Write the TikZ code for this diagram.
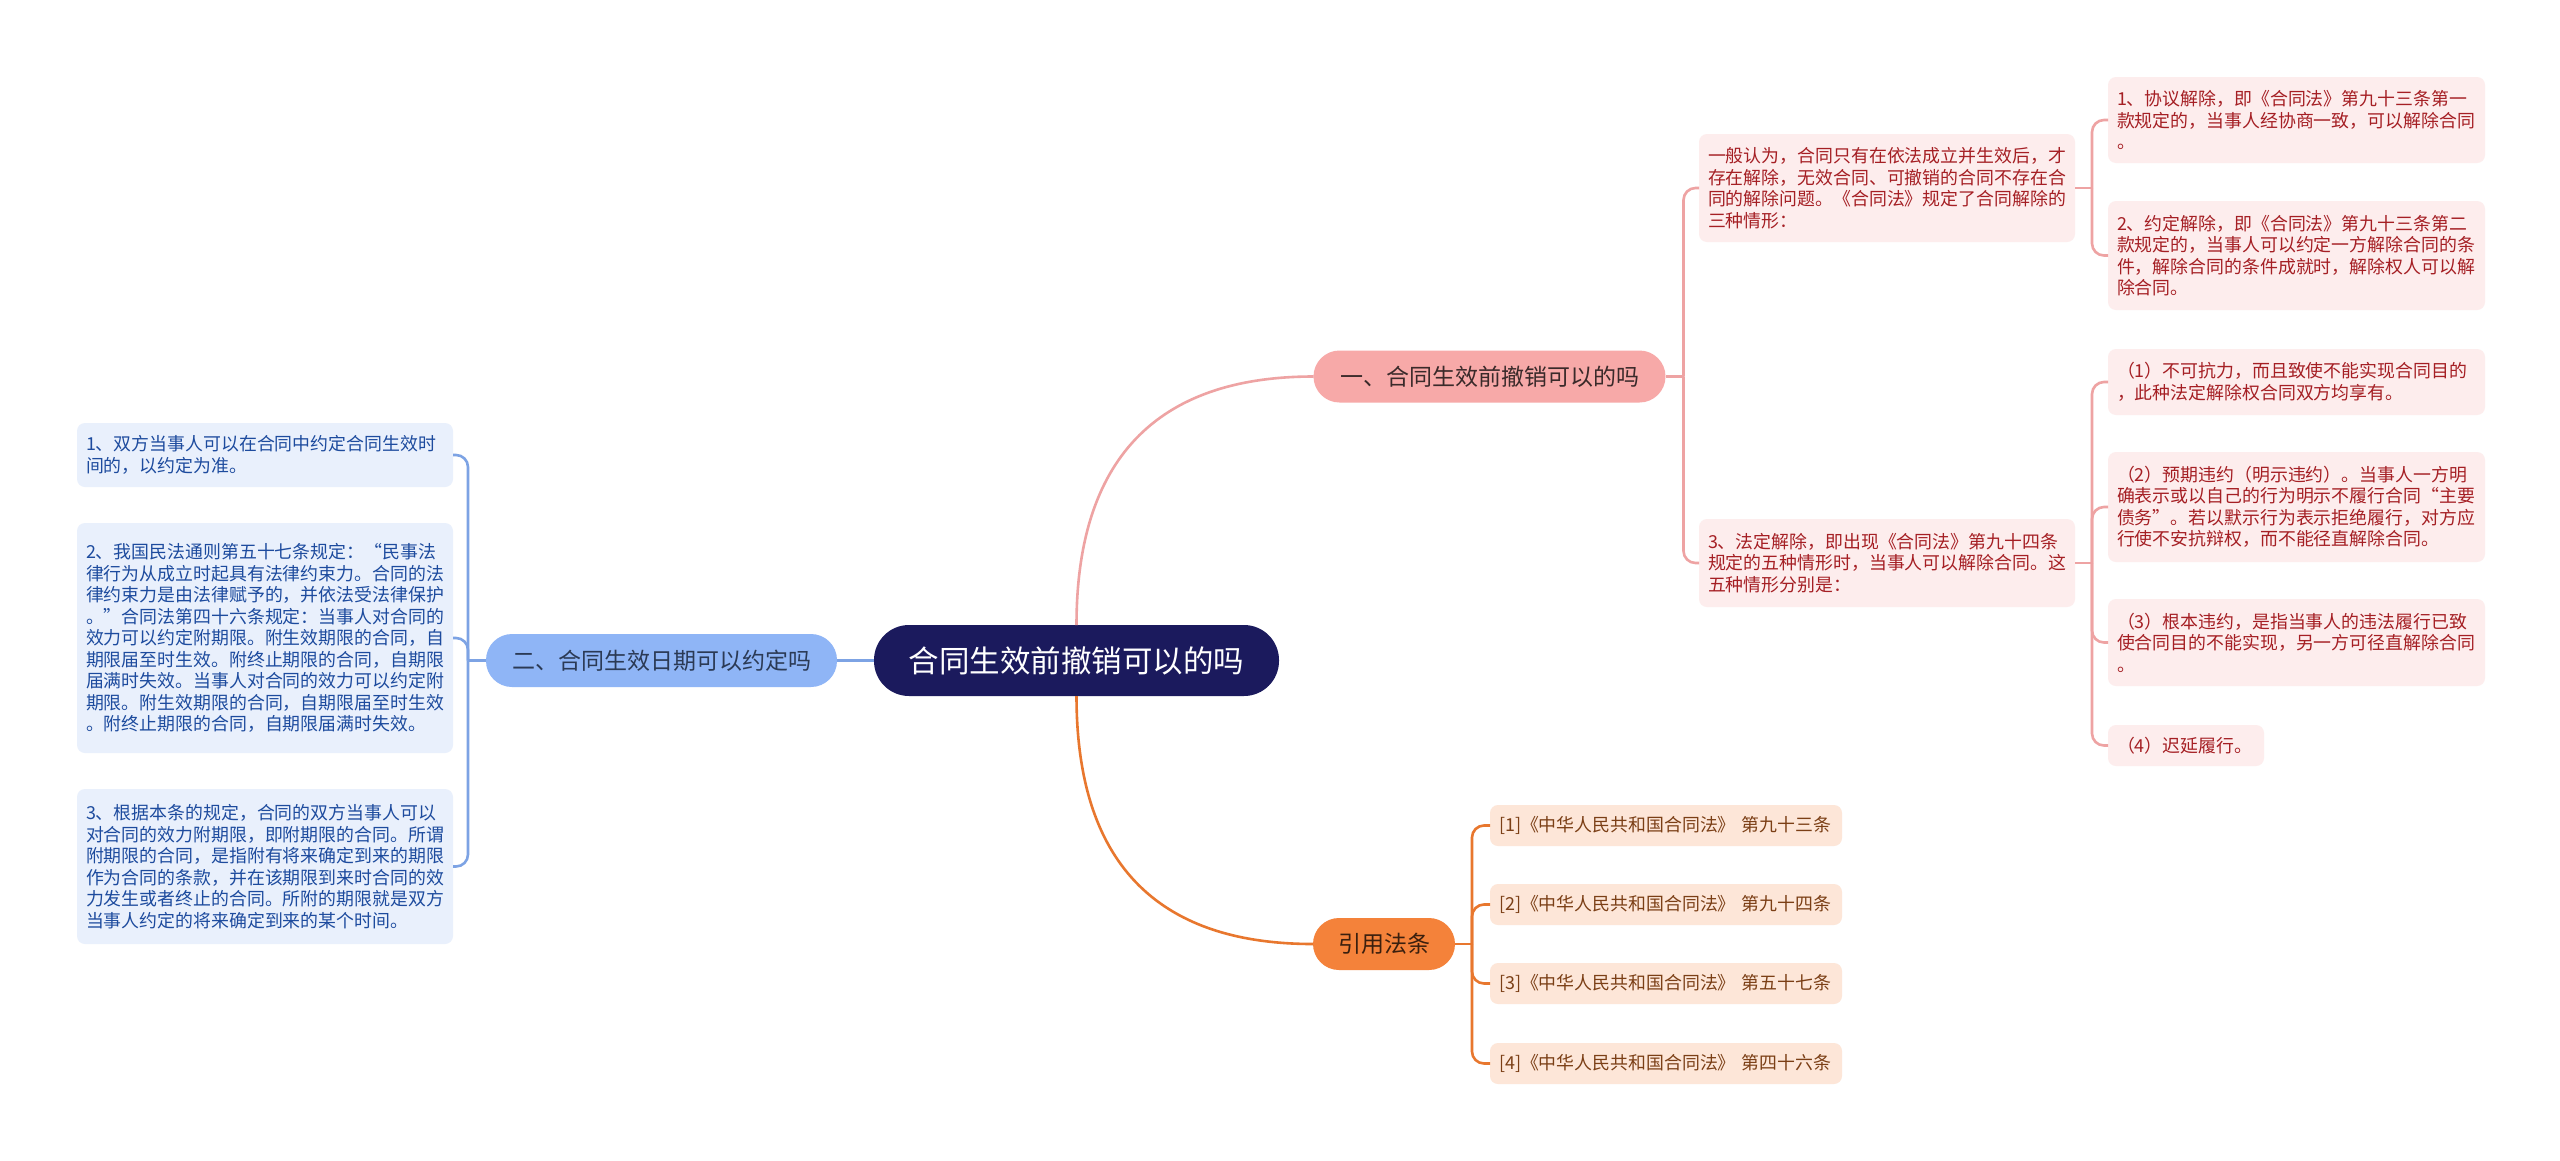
\documentclass[tikz,border=0pt]{standalone}
\usepackage{fontspec}
\setmainfont{Noto Sans CJK SC}
\usetikzlibrary{calc}
\definecolor{rootc}{HTML}{1B1A5D}
\definecolor{bonefill}{HTML}{F7A9A8}
\definecolor{bonetx}{HTML}{3A2A2A}
\definecolor{pinkbg}{HTML}{FDEDED}
\definecolor{pinktx}{HTML}{A51F24}
\definecolor{pinkln}{HTML}{EEA3A3}
\definecolor{btwofill}{HTML}{8FB5F6}
\definecolor{btwotx}{HTML}{2B3A55}
\definecolor{bluebg}{HTML}{E9F0FC}
\definecolor{bluetx}{HTML}{1D4B9E}
\definecolor{blueln}{HTML}{7DA3E4}
\definecolor{bthrfill}{HTML}{F4823A}
\definecolor{bthrtx}{HTML}{3A1F0E}
\definecolor{orangebg}{HTML}{FDE6D8}
\definecolor{orangetx}{HTML}{7B3F16}
\definecolor{orangeln}{HTML}{E8772E}
\begin{document}
\begin{tikzpicture}[x=1pt,y=-1pt,
  every node/.style={inner sep=0pt, outer sep=0pt},
  detail/.style={rounded corners=8pt, anchor=north west, align=left, inner xsep=9pt, inner ysep=0pt,
    font=\fontsize{17.9}{21.5}\selectfont},
  pinkbox/.style={detail, fill=pinkbg, text=pinktx},
  bluebox/.style={detail, fill=bluebg, text=bluetx},
  refbox/.style={detail, fill=orangebg, text=orangetx},
  pill/.style={rounded corners=26pt, align=center, font=\fontsize{23}{27}\selectfont},
  pinkline/.style={draw=pinkln, line width=2.6pt},
  blueline/.style={draw=blueln, line width=2.6pt},
  orangeline/.style={draw=orangeln, line width=2.6pt},
  elbow/.style={rounded corners=12pt}
]
\fill[white] (0,0) rectangle (2560,1160);
\useasboundingbox (0,0) rectangle (2560,1160);

% root and main branches
\node[rounded corners=35pt, fill=rootc, text=white, minimum width=405pt, minimum height=71pt,
  font=\fontsize{30.5}{34}\selectfont] (root) at (1076.5,660.5) {合同生效前撤销可以的吗};
\node[pill, fill=bonefill, text=bonetx, minimum width=352pt, minimum height=52pt] (b1) at (1489.5,376.5) {一、合同生效前撤销可以的吗};
\node[pill, fill=btwofill, text=btwotx, minimum width=351pt, minimum height=53pt] (b2) at (661.5,660.5) {二、合同生效日期可以约定吗};
\node[pill, fill=bthrfill, text=bthrtx, minimum width=142pt, minimum height=52pt] (b3) at (1384,944) {引用法条};

% branch 1 details
\node[pinkbox, text width=358pt, minimum height=108pt] (A) at (1699,134) {一般认为，合同只有在依法成立并生效后，才\\存在解除，无效合同、可撤销的合同不存在合\\同的解除问题。《合同法》规定了合同解除的\\三种情形：};
\node[pinkbox, text width=358pt, minimum height=88pt] (B) at (1699,519) {3、法定解除，即出现《合同法》第九十四条\\规定的五种情形时，当事人可以解除合同。这\\五种情形分别是：};
\node[pinkbox, text width=359pt, minimum height=86pt] (A1) at (2108,77) {1、协议解除，即《合同法》第九十三条第一\\款规定的，当事人经协商一致，可以解除合同\\。};
\node[pinkbox, text width=359pt, minimum height=109pt] (A2) at (2108,201) {2、约定解除，即《合同法》第九十三条第二\\款规定的，当事人可以约定一方解除合同的条\\件，解除合同的条件成就时，解除权人可以解\\除合同。};
\node[pinkbox, text width=359pt, minimum height=66pt] (B1) at (2108,349) {（1）不可抗力，而且致使不能实现合同目的\\，此种法定解除权合同双方均享有。};
\node[pinkbox, text width=359pt, minimum height=110pt] (B2) at (2108,452) {（2）预期违约（明示违约）。当事人一方明\\确表示或以自己的行为明示不履行合同“主要\\债务”。若以默示行为表示拒绝履行，对方应\\行使不安抗辩权，而不能径直解除合同。};
\node[pinkbox, text width=359pt, minimum height=87pt] (B3) at (2108,599) {（3）根本违约，是指当事人的违法履行已致\\使合同目的不能实现，另一方可径直解除合同\\。};
\node[pinkbox, text width=138pt, minimum height=41pt] (B4) at (2108,725) {（4）迟延履行。};

% branch 2 details
\node[bluebox, text width=358pt, minimum height=64pt] (L1) at (77,423) {1、双方当事人可以在合同中约定合同生效时\\间的，以约定为准。};
\node[bluebox, text width=358pt, minimum height=230pt] (L2) at (77,523) {2、我国民法通则第五十七条规定：“民事法\\律行为从成立时起具有法律约束力。合同的法\\律约束力是由法律赋予的，并依法受法律保护\\。”合同法第四十六条规定：当事人对合同的\\效力可以约定附期限。附生效期限的合同，自\\期限届至时生效。附终止期限的合同，自期限\\届满时失效。当事人对合同的效力可以约定附\\期限。附生效期限的合同，自期限届至时生效\\。附终止期限的合同，自期限届满时失效。};
\node[bluebox, text width=358pt, minimum height=155pt] (L3) at (77,789) {3、根据本条的规定，合同的双方当事人可以\\对合同的效力附期限，即附期限的合同。所谓\\附期限的合同，是指附有将来确定到来的期限\\作为合同的条款，并在该期限到来时合同的效\\力发生或者终止的合同。所附的期限就是双方\\当事人约定的将来确定到来的某个时间。};

% branch 3 details
\node[refbox, text width=334pt, minimum height=41pt] (R1) at (1490,805) {[1]《中华人民共和国合同法》~第九十三条};
\node[refbox, text width=334pt, minimum height=41pt] (R2) at (1490,884) {[2]《中华人民共和国合同法》~第九十四条};
\node[refbox, text width=334pt, minimum height=41pt] (R3) at (1490,963) {[3]《中华人民共和国合同法》~第五十七条};
\node[refbox, text width=334pt, minimum height=41pt] (R4) at (1490,1043) {[4]《中华人民共和国合同法》~第四十六条};

% main connectors
\draw[pinkline] (root.north) .. controls +(0,-165) and +(-158,0) .. (b1.west);
\draw[orangeline] (root.south) .. controls +(0,165) and +(-158,0) .. (b3.west);
\draw[blueline] (root.west) -- (b2.east);

% brackets
\coordinate (j1) at ($(b1.east)+(18,0)$);
\draw[pinkline] (b1.east) -- (j1);
\draw[pinkline, elbow] (j1) |- (A.west);
\draw[pinkline, elbow] (j1) |- (B.west);

\coordinate (jA) at ($(A.east)+(17,0)$);
\draw[pinkline] (A.east) -- (jA);
\draw[pinkline, elbow] (jA) |- (A1.west);
\draw[pinkline, elbow] (jA) |- (A2.west);

\coordinate (jB) at ($(B.east)+(17,0)$);
\draw[pinkline] (B.east) -- (jB);
\draw[pinkline, elbow] (jB) |- (B1.west);
\draw[pinkline, elbow] (jB) |- (B2.west);
\draw[pinkline, elbow] (jB) |- (B3.west);
\draw[pinkline, elbow] (jB) |- (B4.west);

\coordinate (j2) at ($(b2.west)+(-18,0)$);
\draw[blueline] (b2.west) -- (j2);
\draw[blueline, elbow] (j2) |- (L1.east);
\draw[blueline, elbow] (j2) |- (L2.east);
\draw[blueline, elbow] (j2) |- (L3.east);

\coordinate (j3) at ($(b3.east)+(17,0)$);
\draw[orangeline] (b3.east) -- (j3);
\draw[orangeline, elbow] (j3) |- (R1.west);
\draw[orangeline, elbow] (j3) |- (R2.west);
\draw[orangeline, elbow] (j3) |- (R3.west);
\draw[orangeline, elbow] (j3) |- (R4.west);
\end{tikzpicture}
\end{document}
